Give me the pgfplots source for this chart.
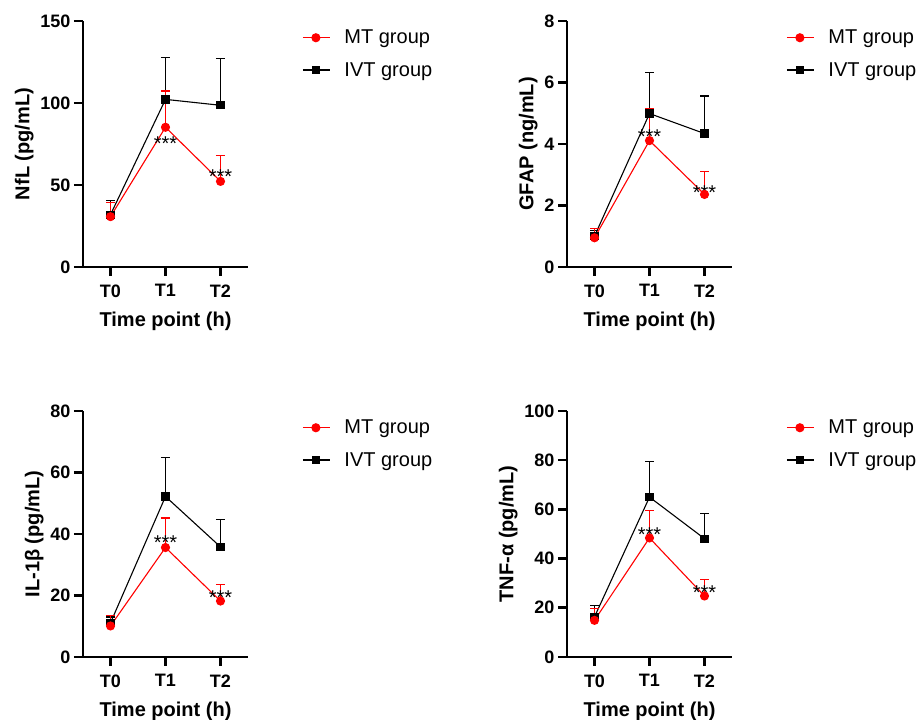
\documentclass[border=0pt]{standalone}
\usepackage{pgfplots}
\pgfplotsset{compat=1.18}
\usepackage{fontspec}
\setmainfont{Liberation Sans}

\definecolor{mtred}{RGB}{255,0,0}
\tikzset{stars/.style={font=\fontsize{20}{20}\selectfont, yshift=-4pt, inner sep=0pt}}

\pgfplotsset{
  panel/.style={
    scale only axis, width=165pt, height=246pt,
    xmin=-0.5, xmax=2.5, ymin=0,
    xtick={0,1,2}, xticklabels={T0,T1,T2},
    axis lines=left,
    axis line style={-, line width=2.6pt},
    tick align=outside, major tick length=9pt,
    tick style={line width=2.6pt, black},
    minor tick num=0,
    /pgf/number format/assume math mode=true,
    tick label style={font=\fontsize{18}{20}\selectfont\bfseries},
    xticklabel shift=5pt,
    label style={font=\fontsize{20}{24}\selectfont\bfseries},
    xlabel={Time point (h)},
    xlabel style={at={(axis description cs:0.5,-0.22)}, anchor=center},
    legend style={at={(axis description cs:1.31,0.98)}, anchor=north west,
      draw=none, fill=none, font=\fontsize{20}{24}\selectfont,
      row sep=13pt, column sep=12pt},
    legend cell align=left,
    legend image code/.code={
      \draw[mark repeat=2, mark phase=2] plot coordinates {(0pt,0pt) (13pt,0pt) (27pt,0pt)};},
    clip=false,
  },
  ivt/.style={black, line width=1.1pt, mark=square*, mark size=3.6pt,
    mark options={solid, fill=black},
    error bars/.cd, y dir=plus, y explicit,
    error bar style={line width=1.1pt, black},
    error mark options={rotate=90, mark size=4.5pt, line width=1.1pt, black}},
  mt/.style={mtred, line width=1.1pt, mark=*, mark size=4pt,
    mark options={solid, fill=mtred},
    error bars/.cd, y dir=plus, y explicit,
    error bar style={line width=1.1pt, mtred},
    error mark options={rotate=90, mark size=4.5pt, line width=1.1pt, mtred}},
}

\begin{document}
\begin{tikzpicture}
\useasboundingbox (0,0) rectangle (919pt,720pt);

% NfL
\begin{axis}[panel, at={(83pt,453pt)}, anchor=south west,
  ymax=150, ytick={0,50,100,150}, ylabel={NfL (pg/mL)}]
\addlegendimage{mt}
\addlegendentry{MT group}
\addlegendimage{ivt}
\addlegendentry{IVT group}
\addplot[forget plot, ivt] coordinates {(0,31.9) +- (0,8.8) (1,102.2) +- (0,25.8) (2,98.6) +- (0,28.4)};
\addplot[forget plot, mt] coordinates {(0,30.7) +- (0,8.5) (1,85.2) +- (0,22.1) (2,52.2) +- (0,15.9)};
\node[stars] at (axis cs:1,77.6) {***};
\node[stars] at (axis cs:2,57.5) {***};
\end{axis}

% GFAP
\begin{axis}[panel, at={(567pt,453pt)}, anchor=south west,
  ymax=8, ytick={0,2,4,6,8}, ylabel={GFAP (ng/mL)}]
\addlegendimage{mt}
\addlegendentry{MT group}
\addlegendimage{ivt}
\addlegendentry{IVT group}
\addplot[forget plot, ivt] coordinates {(0,1.0) +- (0,0.18) (1,4.99) +- (0,1.34) (2,4.34) +- (0,1.22)};
\addplot[forget plot, mt] coordinates {(0,0.95) +- (0,0.30) (1,4.11) +- (0,1.04) (2,2.36) +- (0,0.76)};
\node[stars] at (axis cs:1,4.36) {***};
\node[stars] at (axis cs:2,2.55) {***};
\end{axis}

% IL-1beta
\begin{axis}[panel, at={(83pt,63pt)}, anchor=south west,
  ymax=80, ytick={0,20,40,60,80}, ylabel={IL-1β (pg/mL)}]
\addlegendimage{mt}
\addlegendentry{MT group}
\addlegendimage{ivt}
\addlegendentry{IVT group}
\addplot[forget plot, ivt] coordinates {(0,11.1) +- (0,1.9) (1,52.2) +- (0,12.8) (2,35.8) +- (0,8.9)};
\addplot[forget plot, mt] coordinates {(0,10.1) +- (0,3.5) (1,35.6) +- (0,9.6) (2,18.2) +- (0,5.4)};
\node[stars] at (axis cs:1,38.5) {***};
\node[stars] at (axis cs:2,20.6) {***};
\end{axis}

% TNF-alpha
\begin{axis}[panel, at={(567pt,63pt)}, anchor=south west,
  ymax=100, ytick={0,20,40,60,80,100}, ylabel={TNF-α (pg/mL)}]
\addlegendimage{mt}
\addlegendentry{MT group}
\addlegendimage{ivt}
\addlegendentry{IVT group}
\addplot[forget plot, ivt] coordinates {(0,16.3) +- (0,4.7) (1,65.0) +- (0,14.3) (2,48.1) +- (0,10.4)};
\addplot[forget plot, mt] coordinates {(0,14.9) +- (0,4.7) (1,48.4) +- (0,11.2) (2,24.8) +- (0,6.8)};
\node[stars] at (axis cs:1,51.5) {***};
\node[stars] at (axis cs:2,27.8) {***};
\end{axis}
\end{tikzpicture}
\end{document}
